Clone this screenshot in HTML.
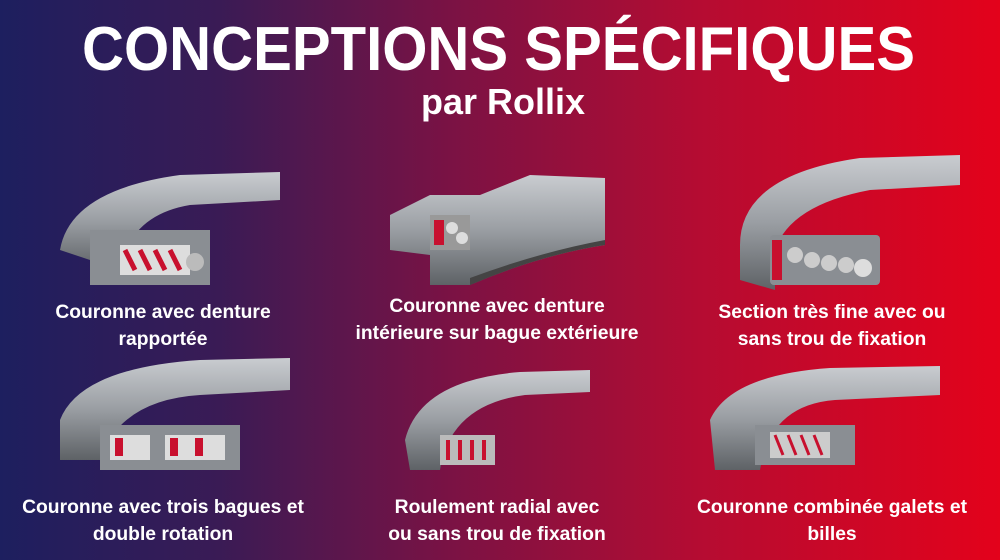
<!DOCTYPE html>
<html><head><meta charset="utf-8"><style>
html,body{margin:0;padding:0}
body{width:1000px;height:560px;overflow:hidden;background:linear-gradient(90deg,#1d1f5f 0%,#3a1b55 22%,#7a1244 45%,#b50c32 70%,#e3021b 100%);font-family:"Liberation Sans",sans-serif}
svg{display:block}
text{font-family:"Liberation Sans",sans-serif;font-weight:bold;fill:#fff}
</style></head><body>
<svg width="1000" height="560" viewBox="0 0 1000 560">
<defs>
<linearGradient id="g" x1="0" y1="0" x2="0" y2="1"><stop offset="0" stop-color="#c9ccd0"/><stop offset="0.5" stop-color="#9a9ea3"/><stop offset="1" stop-color="#5e6266"/></linearGradient>
</defs>
<text x="82" y="70" font-size="62" textLength="833" lengthAdjust="spacingAndGlyphs">CONCEPTIONS SPÉCIFIQUES</text>
<text x="503" y="114" font-size="36" text-anchor="middle">par Rollix</text>

<path d="M60 250 Q70 190 180 175 L280 172 L280 200 L190 205 Q130 215 120 270 Z" fill="url(#g)"/>
<path d="M90 230 L210 230 L210 285 L90 285 Z" fill="#8a8e93"/>
<rect x="120" y="245" width="70" height="30" fill="#ddd"/>
<path d="M125 250 l10 20 M140 250 l10 20 M155 250 l10 20 M170 250 l10 20" stroke="#c8102e" stroke-width="5"/>
<circle cx="195" cy="262" r="9" fill="#bbb"/>
<path d="M390 215 L430 195 L480 195 L530 175 L605 178 L605 245 Q540 255 470 285 L430 285 L430 255 L390 250 Z" fill="url(#g)"/>
<path d="M470 285 Q540 255 605 245 L605 240 Q540 252 470 278 Z" fill="#444"/>
<rect x="430" y="215" width="40" height="35" fill="#999"/>
<rect x="434" y="220" width="10" height="25" fill="#c8102e"/>
<circle cx="452" cy="228" r="6" fill="#ddd"/><circle cx="462" cy="238" r="6" fill="#ddd"/>
<path d="M740 245 Q740 175 860 158 L960 155 L960 185 L870 190 Q790 205 775 250 L775 290 L740 280 Z" fill="url(#g)"/>
<rect x="770" y="235" width="110" height="50" rx="4" fill="#8a8e93"/>
<rect x="772" y="240" width="10" height="40" fill="#c8102e"/>
<circle cx="795" cy="255" r="8" fill="#ccc"/><circle cx="812" cy="260" r="8" fill="#ccc"/><circle cx="829" cy="263" r="8" fill="#ccc"/><circle cx="846" cy="265" r="8" fill="#ccc"/><circle cx="863" cy="268" r="9" fill="#ddd"/>
<text x="163" y="318" font-size="19.3" text-anchor="middle">Couronne avec denture</text>
<text x="163" y="345" font-size="19.3" text-anchor="middle">rapportée</text>
<text x="497" y="312" font-size="19.3" text-anchor="middle">Couronne avec denture</text>
<text x="497" y="339" font-size="19.3" text-anchor="middle">intérieure sur bague extérieure</text>
<text x="832" y="318" font-size="19.3" text-anchor="middle">Section très fine avec ou</text>
<text x="832" y="345" font-size="19.3" text-anchor="middle">sans trou de fixation</text>

<path d="M60 420 Q80 368 200 360 L290 358 L290 390 L200 395 Q120 400 100 460 L60 460 Z" fill="url(#g)"/>
<rect x="100" y="425" width="140" height="45" fill="#8a8e93"/>
<rect x="110" y="435" width="40" height="25" fill="#ddd"/><rect x="165" y="435" width="60" height="25" fill="#ddd"/>
<rect x="115" y="438" width="8" height="18" fill="#c8102e"/><rect x="170" y="438" width="8" height="18" fill="#c8102e"/><rect x="195" y="438" width="8" height="18" fill="#c8102e"/>
<path d="M405 440 Q420 380 520 372 L590 370 L590 392 L525 395 Q450 405 440 470 L410 470 Z" fill="url(#g)"/>
<rect x="440" y="435" width="55" height="30" fill="#bbb"/>
<path d="M448 440 v20 M460 440 v20 M472 440 v20 M484 440 v20" stroke="#c8102e" stroke-width="4"/>
<path d="M710 420 Q730 375 830 368 L940 366 L940 395 L835 400 Q770 405 760 470 L715 470 Z" fill="url(#g)"/>
<rect x="755" y="425" width="100" height="40" fill="#8a8e93"/>
<rect x="770" y="432" width="60" height="26" fill="#ccc"/>
<path d="M775 435 l8 20 M788 435 l8 20 M801 435 l8 20 M814 435 l8 20" stroke="#c8102e" stroke-width="3"/>
<text x="163" y="513" font-size="19.3" text-anchor="middle">Couronne avec trois bagues et</text>
<text x="163" y="540" font-size="19.3" text-anchor="middle">double rotation</text>
<text x="497" y="513" font-size="19.3" text-anchor="middle">Roulement radial avec</text>
<text x="497" y="540" font-size="19.3" text-anchor="middle">ou sans trou de fixation</text>
<text x="832" y="513" font-size="19.3" text-anchor="middle">Couronne combinée galets et</text>
<text x="832" y="540" font-size="19.3" text-anchor="middle">billes</text>
</svg>
</body></html>
